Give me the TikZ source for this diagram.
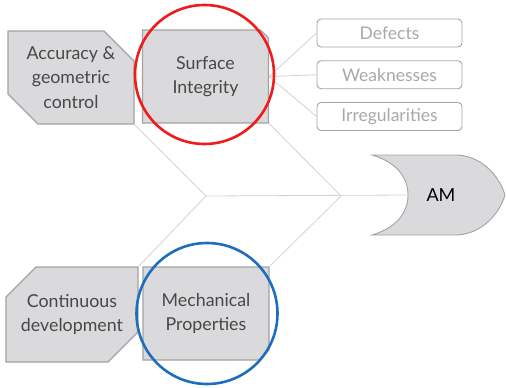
\documentclass[tikz,border=0pt]{standalone}
\usepackage{fontspec}
\setmainfont{Lato}
\usepackage{tikz}
\usetikzlibrary{positioning,shapes.misc}
\definecolor{boxfill}{HTML}{DAD9DB}
\definecolor{boxline}{HTML}{A3A3A3}
\definecolor{boxtext}{HTML}{484848}
\definecolor{lighttext}{HTML}{A8A8A8}
\definecolor{bonecol}{HTML}{D2D2D2}
\definecolor{ringred}{HTML}{EE1C1C}
\definecolor{ringblue}{HTML}{1E6EBE}

\begin{document}
\begin{tikzpicture}[x=1pt,y=-1pt,node distance=41.75pt,on grid,
   cause/.style={chamfered rectangle,draw=boxline,fill=boxfill,line width=1.1pt,
      text=boxtext,align=center,inner sep=0pt,minimum width=126pt,minimum height=93pt,
      font=\fontsize{17.8}{24.5}\selectfont},
   detail/.style={rectangle,rounded corners=4pt,draw=boxline,line width=0.9pt,
      text=lighttext,minimum width=145pt,minimum height=28pt,inner sep=0pt,
      font=\fontsize{17.5}{20}\selectfont},
   bone/.style={draw=bonecol,line width=0.8pt},
   ring/.style={circle,draw,line width=2.6pt,minimum size=139pt,inner sep=0pt}]
   \useasboundingbox (0,0) rectangle (506,388);

   \node[cause,chamfered rectangle corners={north east,south west},
         chamfered rectangle xsep=15pt,chamfered rectangle ysep=15pt]
         (acc) at (71,77.5) {Accuracy \&\\geometric\\control};
   \node[cause,chamfered rectangle corners=north east,
         chamfered rectangle xsep=4pt,chamfered rectangle ysep=4pt]
         (surf) at (205.5,76.5) {Surface\\Integrity};
   \node[cause,minimum height=95pt,chamfered rectangle corners={north west,south east},
         chamfered rectangle xsep=15pt,chamfered rectangle ysep=15pt]
         (cont) at (72,314.5) {Continuous\\development};
   \node[cause,chamfered rectangle corners=south east,
         chamfered rectangle xsep=5pt,chamfered rectangle ysep=5pt]
         (mech) at (206,313.5) {Mechanical\\Properties};

   \node[detail] (defects) at (389.5,33) {Defects};
   \node[detail] (weak) [below=of defects] {Weaknesses};
   \node[detail] (irreg) [below=of weak] {Irregularities};

   % head of the fish
   \coordinate (tail) at (408,195);
   \path[draw=boxline,fill=boxfill,line width=0.9pt]
      (372,155) -- (458,155) .. controls (484,157) and (500,178) .. (505,195)
      .. controls (500,212) and (484,233) .. (458,235) -- (372,235)
      .. controls (396,228) and (408,213) .. (tail)
      .. controls (408,177) and (396,162) .. (372,155) -- cycle;
   \node[font=\fontsize{18}{20}\selectfont] (am) at (441,195) {AM};

   \coordinate (jl) at (206,196);
   \coordinate (jr) at (341,196);
   \draw[bone] (acc.south east) -- (jl) -- (cont.north east);
   \draw[bone] (surf.south east) -- (jr) -- (mech.north east);
   \draw[bone] (jl) -- (tail);

   \path[bone]
    (surf.east) edge (defects.west)
    (surf.east) edge (weak.west)
    (surf.east) edge (irreg.west);

   \node[ring,draw=ringred] (redring) at (204.5,74.5) {};
   \node[ring,draw=ringblue,minimum size=141pt] (bluering) at (207,313.5) {};
\end{tikzpicture}
\end{document}
